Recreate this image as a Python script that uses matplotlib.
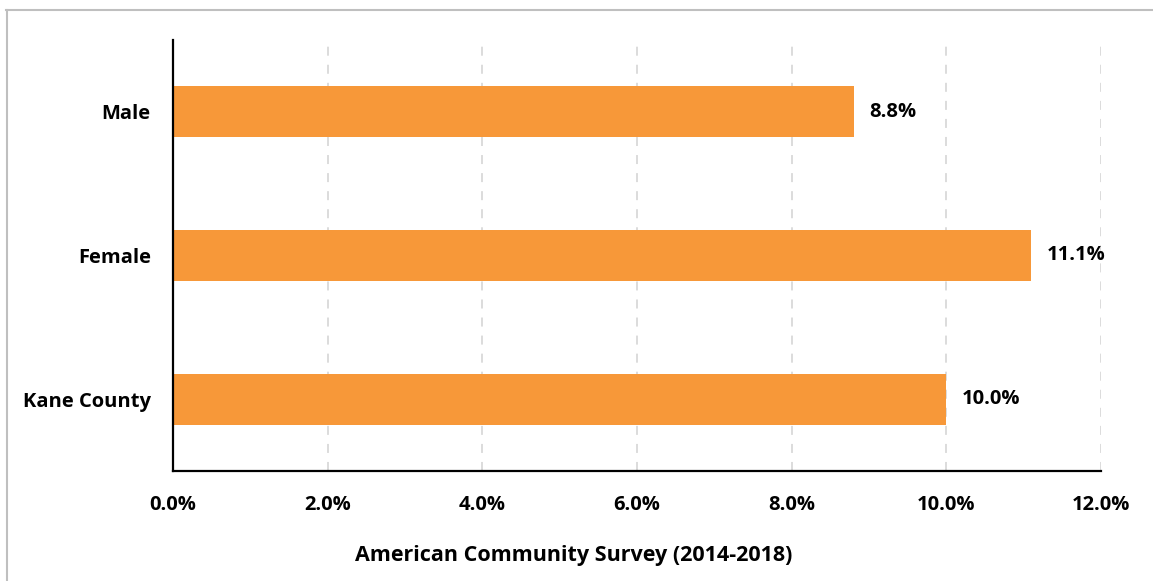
import matplotlib
matplotlib.use("Agg")
import matplotlib.pyplot as plt
from matplotlib.lines import Line2D
from matplotlib.ticker import FuncFormatter

categories = ["Kane County", "Female", "Male"]
values = [10.0, 11.1, 8.8]
xticks = [0, 2, 4, 6, 8, 10, 12]
xlabel = "American Community Survey (2014-2018)"

plt.rcParams['font.family'] = ['Open Sans', 'DejaVu Sans']
FS = 14.5

W, H = 1153, 581
fig = plt.figure(figsize=(W / 100, H / 100), dpi=100)
ax = fig.add_axes([173 / W, 1 - 471 / H, (1101 - 173) / W, (471 - 40) / H])

bar_color = "#F79839"
ax.barh(range(len(categories)), values, height=0.355, color=bar_color, zorder=3)

ax.set_xlim(0, 12)
ax.set_ylim(-0.5, len(categories) - 0.5)
ax.set_xticks(xticks)
ax.xaxis.set_major_formatter(FuncFormatter(lambda v, p: f"{v:.1f}%"))
ax.set_yticks(range(len(categories)))
ax.set_yticklabels(categories)

for lab in ax.get_xticklabels() + ax.get_yticklabels():
    lab.set_fontweight("bold")
    lab.set_fontsize(FS)
    lab.set_color("#000000")

ax.tick_params(axis="both", length=0)
ax.tick_params(axis="x", pad=17)
ax.tick_params(axis="y", pad=16)

ax.grid(axis="x", color="#D9D9D9", linestyle=(0, (5, 5)), linewidth=1.3, zorder=0)
ax.grid(axis="y", visible=False)

for s in ["top", "right"]:
    ax.spines[s].set_visible(False)
for s in ["left", "bottom"]:
    ax.spines[s].set_color("#000000")
    ax.spines[s].set_linewidth(1.6)
    ax.spines[s].set_zorder(4)

for i, v in enumerate(values):
    ax.annotate(f"{v:.1f}%", xy=(v, i), xytext=(11, 0), textcoords="offset points",
                ha="left", va="center", fontsize=FS, fontweight="bold", color="#000000")

fig.text(574 / W, 1 - 555 / H, xlabel, ha="center", va="center",
         fontsize=15.5, fontweight="bold", color="#000000")

# outer chart frame (top and left edges visible)
fig.add_artist(Line2D([6 / W, 1.0], [1 - 10 / H, 1 - 10 / H], transform=fig.transFigure,
                      color="#BFBFBF", linewidth=1.5))
fig.add_artist(Line2D([6.5 / W, 6.5 / W], [1 - 10 / H, 0], transform=fig.transFigure,
                      color="#BFBFBF", linewidth=1.5))

fig.savefig("out.png", dpi=100)
